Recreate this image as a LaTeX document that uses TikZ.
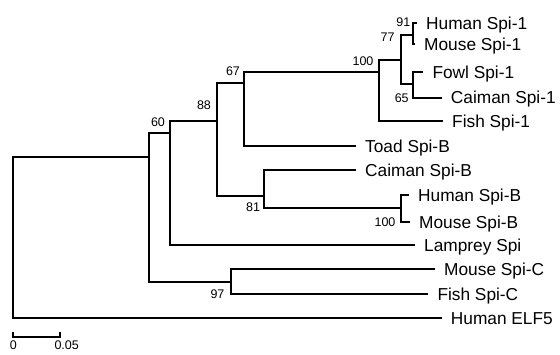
\documentclass[tikz,border=0pt]{standalone}
\usepackage{fontspec}
\setmainfont{Liberation Sans}
\begin{document}
\begin{tikzpicture}[x=1pt,y=-1pt,
  branch/.style={line width=2pt, line join=miter},
  leaflabel/.style={anchor=base west, inner sep=0pt, xshift=9pt, yshift=-6.2pt, font=\fontsize{17.3}{19}\selectfont},
  boot/.style={inner sep=0pt, font=\fontsize{12.5}{13}\selectfont},
  scalelabel/.style={inner sep=0pt, font=\fontsize{12.5}{13}\selectfont}]
\useasboundingbox (0,0) rectangle (560,355);
% internal nodes (x of vertical, y of incoming branch)
\coordinate (root) at (12.7,237);
\coordinate (nB) at (149,157);
\coordinate (n60) at (170,133);
\coordinate (n88) at (217,121);
\coordinate (n67) at (244,83.3);
\coordinate (n100) at (379.3,71.7);
\coordinate (n77) at (401,60);
\coordinate (n91) at (413.3,35);
\coordinate (n65) at (413,84);
\coordinate (n81) at (264,196);
\coordinate (nB100) at (400.7,208.3);
\coordinate (nC) at (231,282);
% leaf ends
\coordinate (hs1) at (417,23);
\coordinate (ms1) at (415,44);
\coordinate (fw1) at (423.3,72);
\coordinate (cm1) at (441.7,97.7);
\coordinate (fs1) at (443,121.5);
\coordinate (tdB) at (356,146);
\coordinate (cmB) at (356,170.5);
\coordinate (hsB) at (409,195);
\coordinate (msB) at (410,222.5);
\coordinate (lmp) at (415,245);
\coordinate (msC) at (435,269);
\coordinate (fsC) at (428.3,294);
\coordinate (elf) at (441.7,318);
% branches
\draw[branch] (root) |- (nB);
\draw[branch] (root) |- (elf);
\draw[branch] (nB) |- (n60);
\draw[branch] (nB) |- (nC);
\draw[branch] (n60) |- (n88);
\draw[branch] (n60) |- (lmp);
\draw[branch] (n88) |- (n67);
\draw[branch] (n88) |- (n81);
\draw[branch] (n67) |- (n100);
\draw[branch] (n67) |- (tdB);
\draw[branch] (n100) |- (n77);
\draw[branch] (n100) |- (fs1);
\draw[branch] (n77) |- (n91);
\draw[branch] (n77) |- (n65);
\draw[branch] (n91) |- (hs1);
\draw[branch] (n91) |- (ms1);
\draw[branch] (n65) |- (fw1);
\draw[branch] (n65) |- (cm1);
\draw[branch] (n81) |- (cmB);
\draw[branch] (n81) |- (nB100);
\draw[branch] (nB100) |- (hsB);
\draw[branch] (nB100) |- (msB);
\draw[branch] (nC) |- (msC);
\draw[branch] (nC) |- (fsC);
% leaf labels
\node[leaflabel] (Lhs1) at (hs1) {Human Spi-1};
\node[leaflabel] (Lms1) at (ms1) {Mouse Spi-1};
\node[leaflabel] (Lfw1) at (fw1) {Fowl Spi-1};
\node[leaflabel] (Lcm1) at (cm1) {Caiman Spi-1};
\node[leaflabel] (Lfs1) at (fs1) {Fish Spi-1};
\node[leaflabel] (LtdB) at (tdB) {Toad Spi-B};
\node[leaflabel] (LcmB) at (cmB) {Caiman Spi-B};
\node[leaflabel] (LhsB) at (hsB) {Human Spi-B};
\node[leaflabel] (LmsB) at (msB) {Mouse Spi-B};
\node[leaflabel] (Llmp) at (lmp) {Lamprey Spi};
\node[leaflabel] (LmsC) at (msC) {Mouse Spi-C};
\node[leaflabel] (LfsC) at (fsC) {Fish Spi-C};
\node[leaflabel] (Lelf) at (elf) {Human ELF5};
% bootstrap values
\node[boot] (b91) at (403.3,22.5) {91};
\node[boot] (b77) at (387.5,37.5) {77};
\node[boot] (b100a) at (363,61) {100};
\node[boot] (b65) at (401.7,98) {65};
\node[boot] (b67) at (233,71.3) {67};
\node[boot] (b88) at (204,105) {88};
\node[boot] (b60) at (158,121.7) {60};
\node[boot] (b81) at (253,206.7) {81};
\node[boot] (b100b) at (385,221.7) {100};
\node[boot] (b97) at (217.5,294) {97};
% scale bar
\coordinate (sb0) at (12.7,336.7);
\coordinate (sb1) at (60,336.7);
\draw[line width=1.8pt, line join=miter] ([yshift=5pt]sb0) -- (sb0) -- (sb1) -- ([yshift=5pt]sb1);
\node[scalelabel] (s0) at (13.3,345) {0};
\node[scalelabel] (s005) at (66.7,345) {0.05};
\end{tikzpicture}
\end{document}
